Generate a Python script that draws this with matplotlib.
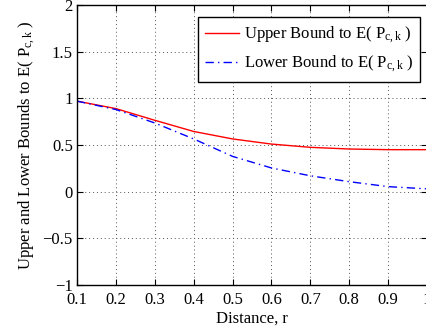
import matplotlib
matplotlib.use("Agg")
import matplotlib.pyplot as plt

plt.rcParams['font.family'] = ['Liberation Serif', 'DejaVu Serif']
plt.rcParams['mathtext.fontset'] = 'custom'
plt.rcParams['mathtext.rm'] = 'Liberation Serif'
plt.rcParams['mathtext.it'] = 'Liberation Serif:italic'

distance = [0.1, 0.2, 0.3, 0.4, 0.5, 0.6, 0.7, 0.8, 0.9, 1.0]
upper = [0.97, 0.89, 0.765, 0.645, 0.565, 0.51, 0.475, 0.457, 0.45, 0.45]
lower = [0.97, 0.88, 0.736, 0.565, 0.378, 0.254, 0.17, 0.107, 0.054, 0.03]
xticks = [0.1, 0.2, 0.3, 0.4, 0.5, 0.6, 0.7, 0.8, 0.9, 1.0]
xticklabels = ['0.1', '0.2', '0.3', '0.4', '0.5', '0.6', '0.7', '0.8', '0.9', '1']
yticks = [-1, -0.5, 0, 0.5, 1, 1.5, 2]
yticklabels = ['\u22121', '\u22120.5', '0', '0.5', '1', '1.5', '2']

fig = plt.figure(figsize=(4.26, 3.32), dpi=100)
ax = fig.add_axes([77/426, 1-285/332, 350/426, 280/332])

ax.plot(distance, upper, color='#ff0000', lw=1.0, ls='-',
        label='Upper Bound to E( P$_{\\mathrm{c,k}}$ )')
ax.plot(distance, lower, color='#0000ff', lw=1.0, ls=(0, (6, 3, 1, 3)),
        label='Lower Bound to E( P$_{\\mathrm{c,k}}$ )')

ax.set_xlim(0.1, 1.0)
ax.set_ylim(-1, 2)
ax.set_xticks(xticks)
ax.set_xticklabels(xticklabels)
ax.set_yticks(yticks)
ax.set_yticklabels(yticklabels)
ax.tick_params(direction='in', top=True, right=True, labelsize=12, length=4, width=0.8)
ax.tick_params(axis='x', pad=5)
ax.tick_params(axis='y', pad=3)
ax.grid(True, ls=(0, (1, 3)), color='#555555', lw=0.7)
for s in ax.spines.values():
    s.set_linewidth(1.0)
    s.set_color('black')

ax.set_xlabel('Distance, r', fontsize=12, labelpad=2)
ax.set_ylabel('Upper and Lower Bounds to E( P$_{\\mathrm{c,k}}$ )', fontsize=12, labelpad=4)

leg = ax.legend(loc='upper right', bbox_to_anchor=(419/427 + 0.0, 1 - 12/280),
                bbox_transform=ax.transAxes, borderaxespad=0,
                fontsize=12, handlelength=2.0,
                fancybox=False, framealpha=1, edgecolor='black', borderpad=0.45,
                labelspacing=0.5, handletextpad=0.3)
leg.get_frame().set_linewidth(1.0)

fig.savefig('out.png', dpi=100)
